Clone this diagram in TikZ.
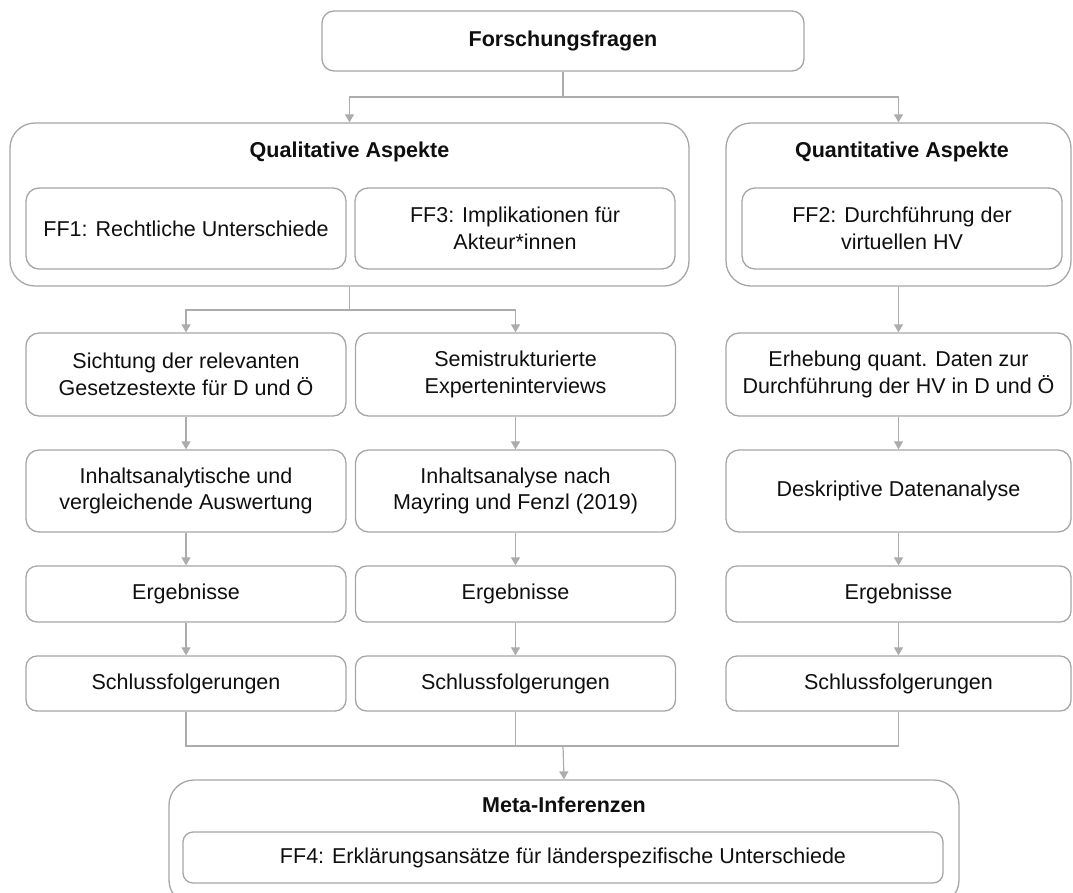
\documentclass[tikz,border=0pt]{standalone}
\usepackage{fontspec}
\setmainfont{Liberation Sans}
\usetikzlibrary{arrows.meta}
\definecolor{boxc}{RGB}{166,166,166}
\definecolor{linec}{RGB}{172,172,172}
\definecolor{txt}{RGB}{15,15,15}
\tikzset{
 box/.style={draw=boxc, line width=1.3pt, rounded corners=13pt, align=center, inner sep=0pt, text=txt, font=\fontsize{21.5}{26.5}\selectfont},
 outerbox/.style={draw=boxc, line width=1.3pt, rounded corners=25pt, inner sep=0pt},
 conn/.style={draw=linec, line width=1.2pt},
 arr/.style={conn, -{Triangle[width=9pt,length=8pt]}},
 ttl/.style={font=\bfseries\fontsize{21.5}{26.5}\selectfont, text=txt, inner sep=0pt},
}
\begin{document}
\begin{tikzpicture}[x=1pt,y=-1pt]
\useasboundingbox (0,0) rectangle (1073,892);
\clip (0,0) rectangle (1073,892);
% top
\node[box, rounded corners=12pt, minimum width=482pt, minimum height=60pt, font=\bfseries\fontsize{21.5}{26.5}\selectfont] (fq) at (563,41) {Forschungsfragen};
% qualitative
\node[outerbox, minimum width=679pt, minimum height=163pt] (qual) at (349.5,204.5) {};
\node[ttl] (qualt) at (349.5,152) {Qualitative Aspekte};
\node[box, minimum width=320pt, minimum height=81pt] (ff1) at (186,228.5) {FF1: Rechtliche Unterschiede};
\node[box, minimum width=320pt, minimum height=81pt] (ff3) at (515,228.5) {FF3: Implikationen für\\Akteur*innen};
% quantitative
\node[outerbox, minimum width=345pt, minimum height=163pt] (quant) at (898.5,204.5) {};
\node[ttl] (quantt) at (902,152) {Quantitative Aspekte};
\node[box, minimum width=320pt, minimum height=81pt] (ff2) at (902,228.5) {FF2: Durchführung der\\virtuellen HV};
% row 2
\node[box, minimum width=320pt, minimum height=83pt] (a2) at (186,374.5) {Sichtung der relevanten\\Gesetzestexte für D und Ö};
\node[box, minimum width=320pt, minimum height=83pt] (b2) at (515.5,374.5) {Semistrukturierte\\Experteninterviews};
\node[box, minimum width=345pt, minimum height=83pt] (c2) at (898.5,374.5) {Erhebung quant. Daten zur\\Durchführung der HV in D und Ö};
% row 3
\node[box, minimum width=320pt, minimum height=82pt] (a3) at (186,491) {Inhaltsanalytische und\\vergleichende Auswertung};
\node[box, minimum width=320pt, minimum height=82pt] (b3) at (515.5,491) {Inhaltsanalyse nach\\Mayring und Fenzl (2019)};
\node[box, minimum width=345pt, minimum height=82pt] (c3) at (898.5,491) {Deskriptive Datenanalyse};
% row 4
\node[box, rounded corners=11pt, minimum width=320pt, minimum height=56pt] (a4) at (186,594) {Ergebnisse};
\node[box, rounded corners=11pt, minimum width=320pt, minimum height=56pt] (b4) at (515.5,594) {Ergebnisse};
\node[box, rounded corners=11pt, minimum width=345pt, minimum height=56pt] (c4) at (898.5,594) {Ergebnisse};
% row 5
\node[box, rounded corners=11pt, minimum width=320pt, minimum height=55pt] (a5) at (186,683.5) {Schlussfolgerungen};
\node[box, rounded corners=11pt, minimum width=320pt, minimum height=55pt] (b5) at (515.5,683.5) {Schlussfolgerungen};
\node[box, rounded corners=11pt, minimum width=345pt, minimum height=55pt] (c5) at (898.5,683.5) {Schlussfolgerungen};
% meta
\node[outerbox, minimum width=790pt, minimum height=125pt] (meta) at (564,842.5) {};
\node[ttl] (metat) at (564,805) {Meta-Inferenzen};
\node[box, rounded corners=10pt, minimum width=760pt, minimum height=51pt] (ff4) at (563,857.5) {FF4: Erklärungsansätze für länderspezifische Unterschiede};
% connectors
\coordinate (t) at (563,97);
\draw[conn] (fq.south) -- (t);
\draw[arr] (t) -| (qual.north);
\draw[arr] (t) -| (quant.north);
\coordinate (q) at (349.5,310);
\draw[conn] (qual.south) -- (q);
\draw[arr] (q) -| (a2.north);
\draw[arr] (q) -| (b2.north);
\draw[arr] (quant.south) -- (c2.north);
\foreach \c in {a,b,c}{
  \draw[arr] (\c2.south) -- (\c3.north);
  \draw[arr] (\c3.south) -- (\c4.north);
  \draw[arr] (\c4.south) -- (\c5.north);
}
\coordinate (m) at (563,746);
\draw[conn] (a5.south) |- (m);
\draw[conn] (c5.south) |- (m);
\draw[conn] (b5.south) -- (b5.south |- m);
\draw[arr] (m) -- (meta.north);
\end{tikzpicture}
\end{document}
